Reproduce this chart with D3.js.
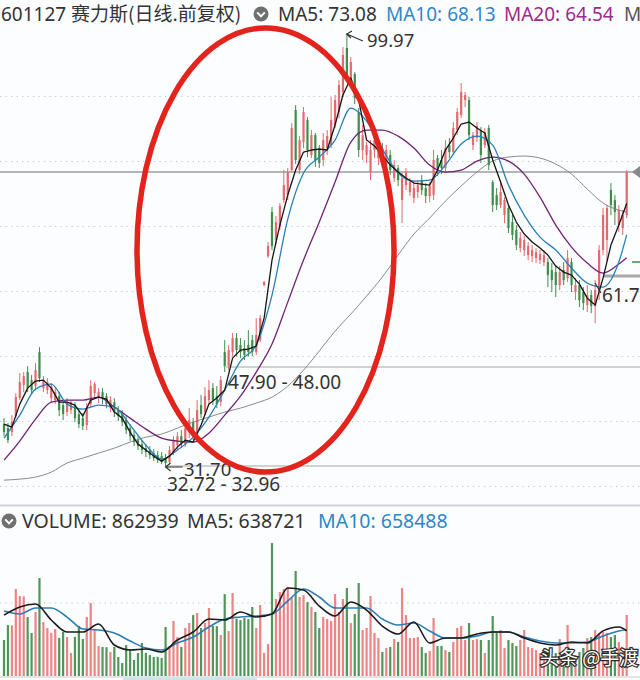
<!DOCTYPE html>
<html><head><meta charset="utf-8">
<script src="https://cdn.jsdelivr.net/npm/d3@7"></script>
<style>html,body{margin:0;padding:0;background:#fff;}svg{display:block}</style>
</head><body>
<svg id="c" width="640" height="680"></svg>
<script>
// ---------------- DATA ----------------
const opens = [38.31,37.67,37.04,39.57,42.41,44.46,46.51,45.24,44.30,49.66,
43.98,43.67,42.41,42.09,42.72,41.30,40.20,40.51,41.30,39.88,
39.25,38.15,41.46,43.19,42.41,43.35,42.72,40.83,41.77,40.51,
39.88,38.94,37.67,36.57,35.78,35.15,34.52,34.21,33.73,33.42,
33.26,32.95,32.32,33.89,34.99,36.41,35.15,37.04,38.62,36.73,
41.30,40.20,42.09,43.98,42.72,41.77,49.66,47.45,49.66,51.87,
50.76,50.29,50.76,51.55,49.66,51.55,60.23,64.80,71.74,67.32,
69.53,73.63,74.42,78.36,87.82,78.36,82.78,86.25,80.73,83.88,
81.83,79.94,81.83,82.30,85.46,87.51,90.66,97.60,92.55,93.50,
87.51,81.52,80.73,78.05,81.52,80.25,81.83,79.15,80.73,77.10,
78.68,73.63,75.99,74.89,73.95,74.89,76.78,75.52,74.26,74.42,
80.25,79.94,78.68,82.30,81.20,84.67,87.03,89.40,89.40,82.30,
83.41,84.67,82.30,84.98,76.47,74.42,72.84,71.26,72.37,70.16,
68.90,66.06,65.75,64.96,64.80,64.48,64.17,63.85,63.85,62.59,
62.27,60.23,62.59,61.33,63.85,59.12,60.23,59.12,57.07,58.65,
56.91,59.12,65.75,67.32,75.21,73.63,69.69,69.21,71.26];
const highs = [39.25,38.46,39.72,43.19,46.35,46.51,47.45,46.03,47.93,50.45,
45.88,45.56,44.77,43.98,43.35,42.09,42.41,42.09,41.77,40.51,
40.04,41.62,45.24,44.93,43.98,43.98,43.19,42.72,42.41,41.14,
40.51,39.57,38.31,37.36,36.41,35.78,35.15,34.84,34.36,34.05,
33.89,33.58,34.84,36.41,37.04,37.36,38.94,40.83,39.25,42.09,
42.88,44.14,45.24,44.77,44.30,45.88,51.55,50.76,52.66,52.66,
51.87,51.55,53.13,52.34,55.02,55.49,60.86,67.01,72.53,71.11,
73.16,78.36,78.68,85.77,88.61,83.72,88.30,86.72,84.67,84.20,
82.30,84.20,84.67,89.87,90.19,92.55,97.76,99.97,96.18,93.81,
88.14,85.46,82.78,83.09,83.41,82.78,82.62,82.30,81.52,79.94,
79.15,77.89,78.68,77.10,76.78,76.78,77.57,76.31,76.47,81.52,
80.73,81.52,83.09,83.41,85.93,88.14,92.08,90.66,89.87,84.35,
85.93,85.14,84.98,85.46,76.78,75.52,76.78,74.10,72.84,71.26,
69.69,68.58,67.95,67.01,66.53,66.06,65.75,65.75,64.48,63.70,
63.38,63.22,63.85,65.75,64.48,61.33,61.01,59.91,60.23,59.44,
61.01,66.53,72.37,72.84,76.31,74.42,72.84,72.05,78.36];
const lows = [36.41,35.31,36.41,39.25,42.09,43.35,43.35,43.19,43.67,44.93,
43.35,43.04,41.77,41.46,39.57,38.94,39.57,39.88,38.62,37.67,
37.36,37.36,40.99,42.41,41.62,41.46,40.83,40.20,39.41,38.78,
37.99,36.73,35.63,34.84,34.21,33.58,33.10,32.79,32.47,32.16,
32.00,31.70,32.00,33.42,34.21,34.52,34.68,36.10,35.78,36.10,
39.25,39.72,41.46,41.30,40.83,41.14,46.51,46.82,48.98,48.98,
48.71,48.40,48.98,48.98,49.19,51.24,60.07,64.48,65.75,66.69,
68.90,73.16,73.63,78.05,79.31,77.73,81.83,80.41,80.25,78.84,
78.68,78.99,80.73,81.83,84.98,86.56,89.87,92.24,91.29,88.77,
80.41,79.94,79.46,76.78,80.25,79.15,78.68,78.36,77.57,76.47,
75.84,70.00,75.21,74.26,73.16,73.95,74.42,73.16,73.31,73.63,
77.41,77.73,78.05,80.25,80.73,83.88,86.56,88.30,83.09,81.52,
82.78,79.46,81.83,78.36,71.74,72.05,72.37,70.00,68.43,67.32,
65.75,65.43,64.80,64.17,63.85,63.70,63.54,63.22,59.91,59.12,
58.33,59.44,60.23,60.70,59.12,57.86,56.76,56.28,55.97,55.81,
54.23,57.86,64.96,64.17,71.26,69.69,68.58,68.11,70.79];
const closes = [37.04,35.78,38.62,42.56,44.93,45.88,43.98,43.67,46.82,45.56,
45.24,44.93,44.30,43.35,40.51,39.88,41.62,41.77,39.25,38.31,
37.99,40.83,44.30,44.61,43.35,42.41,41.46,42.09,40.20,39.57,
38.62,37.36,36.41,35.47,34.84,34.21,33.89,33.42,32.95,32.63,
32.32,32.16,34.21,35.78,36.41,35.15,37.67,38.94,36.41,40.51,
39.88,42.72,43.67,42.09,41.46,45.24,47.45,49.97,51.87,49.97,
49.66,49.19,49.66,49.66,52.34,55.02,60.70,66.38,66.38,70.16,
72.68,75.99,78.05,84.98,79.94,83.09,87.51,81.52,83.88,79.94,
79.46,83.09,83.72,86.25,89.40,91.77,96.50,93.18,95.39,89.72,
81.52,83.88,82.30,81.52,83.09,81.83,79.62,81.52,78.36,79.15,
76.78,77.10,78.05,76.47,75.52,75.99,75.21,74.26,75.84,79.94,
78.68,78.68,81.83,81.20,84.98,87.51,90.66,90.19,83.88,83.88,
85.30,80.73,84.35,79.15,72.84,72.84,74.89,73.63,69.21,68.11,
66.53,67.64,67.32,66.38,65.75,65.43,65.12,64.96,61.80,61.01,
60.23,62.27,61.01,64.48,60.23,60.23,57.86,57.39,58.65,56.91,
59.44,65.75,71.26,72.37,72.84,71.74,72.05,71.26,78.05];
const volumes = [509000,721000,715000,1230000,1131000,1128000,834000,608000,905000,1386000,
764000,679000,610000,665000,537000,622000,551000,325000,553000,707000,
523000,834000,1032000,650000,424000,410000,408000,339000,412000,269000,
184000,438000,382000,226000,325000,467000,327000,297000,269000,271000,
255000,693000,424000,778000,551000,410000,679000,749000,862000,891000,
680000,750000,962000,707000,705000,580000,1159000,636000,1174000,806000,
792000,820000,805000,976000,679000,1004000,325000,452000,1881000,1089000,
1188000,1230000,1258000,1103000,1485000,1117000,1145000,1046000,976000,905000,
679000,834000,806000,778000,1159000,905000,1089000,1244000,749000,877000,
1315000,650000,679000,1131000,608000,537000,339000,396000,410000,523000,
481000,1244000,862000,537000,540000,551000,410000,325000,354000,820000,
424000,426000,368000,339000,481000,679000,707000,509000,749000,509000,
523000,509000,325000,509000,848000,608000,650000,396000,509000,467000,
424000,509000,650000,410000,396000,368000,325000,297000,297000,255000,
325000,523000,368000,721000,325000,297000,339000,396000,537000,551000,
650000,608000,622000,608000,551000,580000,481000,339000,862939];
// price moving averages: MA5 read every 2nd day, the others every 4th day (+ last day)
const ma5 = [38.31,37.83,41.46,43.98,45.09,45.24,43.98,41.77,41.77,41.30,
39.57,42.09,42.56,42.25,40.20,39.25,37.04,35.15,34.21,33.26,
32.47,33.26,34.68,35.78,35.47,38.15,41.46,42.41,43.67,48.71,
49.97,50.13,50.61,55.02,64.17,69.69,74.42,78.36,81.20,81.52,
81.67,81.52,85.46,90.19,92.87,89.40,83.09,82.15,80.73,79.15,
78.05,77.10,76.31,76.15,75.99,78.36,81.52,83.41,85.62,85.93,
84.98,84.20,79.94,76.47,72.84,70.16,68.27,67.01,66.06,64.96,
63.22,62.27,61.80,60.38,58.16,57.07,61.33,66.53,69.69,73.08];
const ma10 = [36.10,39.72,43.82,44.61,41.46,40.67,41.30,40.99,38.15,34.99,
32.79,34.21,36.25,39.41,43.67,48.24,50.76,58.65,70.63,77.89,
80.41,83.09,88.14,86.09,81.67,77.89,76.63,76.78,79.15,82.46,
83.72,82.30,75.99,71.26,67.79,65.75,62.91,60.54,59.91,63.85,68.13];
const ma20 = [32.63,35.63,39.09,41.77,42.09,42.09,42.56,40.99,39.25,37.52,
36.10,35.63,35.47,36.89,39.72,42.72,46.51,50.92,57.54,64.17,
70.16,76.47,82.78,84.67,84.67,83.72,81.83,79.15,78.05,78.36,
79.78,80.41,79.78,77.73,74.10,69.69,66.22,63.70,62.12,63.54,64.54];
const ma60 = [29.47,29.63,29.95,30.74,32.16,32.95,33.73,34.52,35.47,36.25,
36.73,37.67,38.62,39.41,40.20,40.83,41.62,42.56,44.30,46.82,
49.82,52.97,55.65,58.49,61.49,64.96,68.27,70.79,73.47,75.84,
78.05,79.78,80.41,80.57,80.25,79.31,77.73,75.36,73.16,72.05,71.74];
const volMa5 = [862000,976000,1018000,792000,622000,622000,735000,438000,368000,382000,
339000,509000,622000,806000,792000,905000,834000,877000,1244000,1216000,
990000,848000,1046000,933000,707000,594000,764000,467000,537000,537000,
594000,622000,622000,537000,467000,438000,481000,467000,638000,693000,638721];
const volMa10 = [919000,877000,962000,962000,834000,665000,650000,608000,495000,396000,
368000,467000,551000,693000,806000,834000,848000,877000,1061000,1230000,
1117000,962000,962000,962000,806000,721000,749000,636000,537000,537000,
566000,622000,622000,551000,495000,467000,467000,481000,566000,636000,658488];
const lastPrice = 78.05;
const rangeLines = [47.30, 31.70];           // annotation range lines
const titleText = "601127";
const nameText = "赛力斯(日线.前复权)";
const maLabels = ["MA5: 73.08","MA10: 68.13","MA20: 64.54","M"];
const volLabels = ["VOLUME: 862939","MA5: 638721","MA10: 658488"];
const highLabel = "99.97", lowLabel = "31.70", lowRange = "32.72 - 32.96",
      midRange = "47.90 - 48.00", rightLabel = "61.7", watermark = "头条 @手渡";

// ---------------- DRAW ----------------
const N = closes.length;
const svg = d3.select('#c');
const FONT = "'Noto Sans','Noto Sans CJK SC',sans-serif";
const RED = '#e4696d', GREEN = '#3f8d4a', VRED = '#ee8383', VGREEN = '#4f9658';
svg.append('rect').attr('width',640).attr('height',680).attr('fill','#fcfdfe');

const x = d3.scaleLinear().domain([0, N-1]).range([4, 626.7]);
const y = d3.scaleLinear().domain([31.70, 99.97]).range([466, 33]);
const yv = d3.scaleLinear().domain([0, 862939]).range([676, 615]);

// grid (dotted)
const gGrid = svg.append('g');
d3.range(7).forEach(k => {
  gGrid.append('line').attr('x1',0).attr('x2',640).attr('y1',96.5+65*k).attr('y2',96.5+65*k)
    .attr('stroke','#c4c7cc').attr('stroke-width',1.2).attr('stroke-dasharray','1.3,4.2');
});
gGrid.append('line').attr('x1',0).attr('x2',640).attr('y1',603).attr('y2',603)
  .attr('stroke','#c4c7cc').attr('stroke-width',1.2).attr('stroke-dasharray','1.3,4.2');

// panel separator & bottom axis
svg.append('line').attr('x1',0).attr('x2',640).attr('y1',505.5).attr('y2',505.5).attr('stroke','#cfd2d6').attr('stroke-width',2);
svg.append('line').attr('x1',0).attr('x2',640).attr('y1',677).attr('y2',677).attr('stroke','#c9ccd0').attr('stroke-width',1);
svg.append('rect').attr('x',123).attr('y',677.5).attr('width',134).attr('height',2.5).attr('fill','#cfe4ea');

// last price line + range lines
svg.append('line').attr('x1',0).attr('x2',633).attr('y1',y(lastPrice)).attr('y2',y(lastPrice))
  .attr('stroke','#9d9d9d').attr('stroke-width',1.4);
svg.append('path').attr('d',`M632,${y(lastPrice)} L640,${y(lastPrice)-6} L640,${y(lastPrice)+6}Z`).attr('fill','#8a8a8a');
svg.append('line').attr('x1',226).attr('x2',640).attr('y1',y(rangeLines[0])).attr('y2',y(rangeLines[0]))
  .attr('stroke','#c2c2c2').attr('stroke-width',1.6);
svg.append('line').attr('x1',165).attr('x2',640).attr('y1',y(rangeLines[1])).attr('y2',y(rangeLines[1]))
  .attr('stroke','#c2c2c2').attr('stroke-width',1.6);
svg.append('line').attr('x1',603).attr('x2',640).attr('y1',276).attr('y2',276).attr('stroke','#a8a8a8').attr('stroke-width',3);
svg.append('line').attr('x1',632).attr('x2',640).attr('y1',262).attr('y2',262).attr('stroke',GREEN).attr('stroke-width',1.5);

const candles = d3.range(N).map(i => ({i, o:opens[i], h:highs[i], l:lows[i], c:closes[i], v:volumes[i], up: closes[i] >= opens[i]}));

// candles
const gC = svg.append('g');
gC.selectAll('line').data(candles).join('line')
  .attr('x1',d=>x(d.i)).attr('x2',d=>x(d.i)).attr('y1',d=>y(d.h)).attr('y2',d=>y(d.l))
  .attr('stroke',d=>d.up?RED:GREEN).attr('stroke-width',1);
gC.selectAll('rect').data(candles).join('rect')
  .attr('x',d=>x(d.i)-1.1).attr('width',2.2)
  .attr('y',d=>y(Math.max(d.o,d.c))).attr('height',d=>Math.max(1,Math.abs(y(d.o)-y(d.c))))
  .attr('fill',d=>d.up?RED:GREEN);

// volume bars
svg.append('g').selectAll('rect').data(candles).join('rect')
  .attr('x',d=>x(d.i)-1.1).attr('width',2.2)
  .attr('y',d=>yv(d.v)).attr('height',d=>yv(0)-yv(d.v))
  .attr('fill',d=>d.up?VRED:VGREEN);

// moving averages
const days2 = d3.range(0, N, 2);
const days4 = d3.range(0, N-2, 4).concat([N-1]);
function drawLine(days, vals, scale, color, w, curve){
  const line = d3.line().x((d,k)=>x(days[k])).y(d=>scale(d)).curve(curve||d3.curveMonotoneX);
  svg.append('path').datum(vals).attr('d',line).attr('fill','none').attr('stroke',color).attr('stroke-width',w)
    .attr('stroke-linejoin','round');
}
drawLine(days4, ma60, y, '#7d7d7d', 0.9);
drawLine(days4, ma20, y, '#6e2374', 1.3);
drawLine(days4, ma10, y, '#2c80b4', 1.3);
drawLine(days2, ma5, y, '#151515', 1.3, d3.curveLinear);
drawLine(days4, volMa10, yv, '#2c7db5', 1.6);
drawLine(days4, volMa5, yv, '#1b1b1b', 1.6);

// header texts
function txt(s, tx, ty, size, color, fam){
  return svg.append('text').attr('x',tx).attr('y',ty).attr('font-size',size).attr('fill',color)
    .attr('font-family',fam||FONT).text(s);
}
function icon(cx, cy){
  svg.append('circle').attr('cx',cx).attr('cy',cy).attr('r',7.5).attr('fill','#707070');
  svg.append('path').attr('d',`M${cx-3.8},${cy-1.6} L${cx},${cy+2.4} L${cx+3.8},${cy-1.6}`)
    .attr('fill','none').attr('stroke','#fff').attr('stroke-width',2);
}
txt(titleText, 1, 21, 19, '#333');
txt(nameText, 71, 21, 19, '#333', "'Noto Sans CJK SC',sans-serif");
icon(261, 14);
txt(maLabels[0], 278, 21, 19, '#333');
txt(maLabels[1], 386, 21, 19, '#2e87c8');
txt(maLabels[2], 504, 21, 19, '#9a2b8c');
txt(maLabels[3], 624, 21, 19, '#555');

icon(9, 521);
txt(volLabels[0], 22, 528, 19.5, '#333');
txt(volLabels[1], 187, 528, 19.5, '#333');
txt(volLabels[2], 318, 528, 19.5, '#2e87c8');

// annotations
const hiX = x(highs.indexOf(d3.max(highs))), hiY = y(d3.max(highs));
svg.append('path').attr('d',`M${hiX+5},${hiY-2} L${hiX},${hiY+1} L${hiX+4},${hiY+5} M${hiX},${hiY+1} L${hiX+16},${hiY+8}`)
  .attr('fill','none').attr('stroke','#333').attr('stroke-width',1.2);
txt(highLabel, 367, 47, 18.5, '#333');
const loX = x(lows.indexOf(d3.min(lows))), loY = y(d3.min(lows));
svg.append('path').attr('d',`M${loX+5},${loY-3} L${loX},${loY+1} L${loX+5},${loY+5} M${loX},${loY+1} L${loX+17},${loY+1}`)
  .attr('fill','none').attr('stroke','#333').attr('stroke-width',1.2);
txt(lowLabel, 184, 476, 18.5, '#333');
txt(lowRange, 167, 491, 19, '#333');
txt(midRange, 228, 389, 19, '#333');
svg.append('path').attr('d','M595,283 L601,293').attr('stroke','#333').attr('stroke-width',1.2);
txt(rightLabel, 602, 302, 19, '#333');

// red ellipse
svg.append('ellipse').attr('cx',265.5).attr('cy',250).attr('rx',128.5).attr('ry',222)
  .attr('fill','none').attr('stroke','#e2241d').attr('stroke-width',5.5);

// watermark
svg.append('text').attr('x',540).attr('y',665).attr('font-size',19).attr('font-family',"'Noto Sans CJK SC',sans-serif")
  .attr('fill','#fff').attr('stroke','#2a2a2a').attr('stroke-width',2.4).attr('paint-order','stroke').text(watermark);
</script>
</body></html>
